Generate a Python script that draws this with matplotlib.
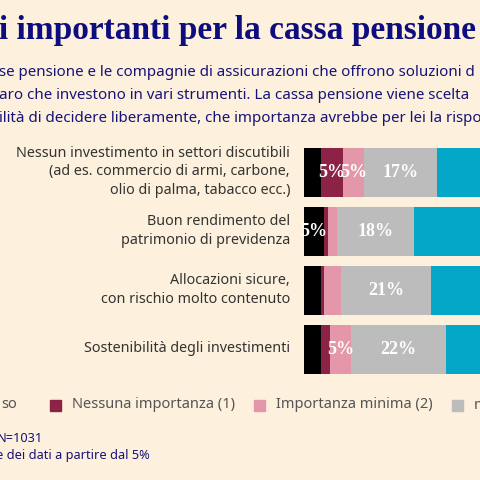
import matplotlib.pyplot as plt
import numpy as np

categories = ["Nessun investimento in settori discutibili\n(ad es. commercio di armi, carbone,\nolio di palma, tabacco ecc.)",
              "Buon rendimento del\npatrimonio di previdenza",
              "Allocazioni sicure,\ncon rischio molto contenuto",
              "Sostenibilità degli investimenti"]
series_names = ["Non so", "Nessuna importanza (1)", "Importanza minima (2)", "media (3)", "Importante (4)", "Molto importante (5)"]
non_so = [4, 4.6, 4, 4]
nessuna = [5, 1, 0.6, 2]
minima = [5, 2, 4, 5]
media = [17, 18, 21, 22]
importante = [28, 40, 33, 30]
molto = [41, 34.4, 37.4, 37]
colors = ["#000000", "#8c2245", "#e397a9", "#bdbcbd", "#04a7c7", "#0a6d8a"]

BG = "#fdf0dc"
NAVY = "#16137a"
fig = plt.figure(figsize=(4.8, 4.8), dpi=100, facecolor=BG)

fig.text(476/480, 1-30/480, "Criteri importanti per la cassa pensione", ha="right", va="center",
         fontsize=24, fontweight="bold", family="Liberation Serif", color="#0d0d80")
subs = ["se pensione e le compagnie di assicurazioni che offrono soluzioni d",
        "aro che investono in vari strumenti. La cassa pensione viene scelta",
        "ilità di decidere liberamente, che importanza avrebbe per lei la rispo"]
for i, s in enumerate(subs):
    fig.text(-1/480, 1-(73+22.5*i)/480, s, ha="left", va="center", fontsize=10.9,
             family="Noto Sans", color=NAVY)

ax = fig.add_axes([304/480, 1-(374+5)/480, 430/480, 236/480])
ax.set_facecolor(BG)
ax.patch.set_alpha(0)
data = [non_so, nessuna, minima, media, importante, molto]
y = np.arange(len(categories))
left = np.zeros(len(categories))
for vals, c, name in zip(data, colors, series_names):
    vals = np.array(vals, float)
    ax.barh(y, vals, left=left, color=c, height=0.83, label=name)
    for yi, (l, v) in enumerate(zip(left, vals)):
        if round(v) >= 5:
            ax.text(l + v/2, yi, f"{round(v)}%", ha="center", va="center", color="white",
                    fontsize=13, fontweight="bold", family="Liberation Serif")
    left += vals
ax.set_xlim(0, 100)
ax.set_ylim(3.5, -0.5)
ax.axis("off")

for yi, cat in enumerate(categories):
    ypx = 172 + 59*yi
    fig.text(290/480, 1-ypx/480, cat, ha="right", va="center", fontsize=10.3,
             family="Noto Sans", color="#333333", linespacing=1.3)

# legend row
ly = 1-405/480
fig.text(1/480, ly, "so", ha="left", va="center", fontsize=10.5, family="Noto Sans", color="#555555")
for xs, c, name in [(50, colors[1], series_names[1]), (254, colors[2], series_names[2]), (452, colors[3], series_names[3])]:
    fig.patches.append(plt.Rectangle((xs/480, ly-5.5/480), 11/480, 11/480, transform=fig.transFigure,
                                     color=c))
    fig.text((xs+22)/480, ly, name, ha="left", va="center", fontsize=10.5, family="Noto Sans", color="#555555")

fig.text(-3/480, 1-438/480, "N=1031", ha="left", va="center", fontsize=9.2, family="Noto Sans", color=NAVY)
fig.text(-4/480, 1-455/480, "e dei dati a partire dal 5%", ha="left", va="center", fontsize=9.2,
         family="Noto Sans", color=NAVY)

fig.savefig("out.png", dpi=100, facecolor=BG)
